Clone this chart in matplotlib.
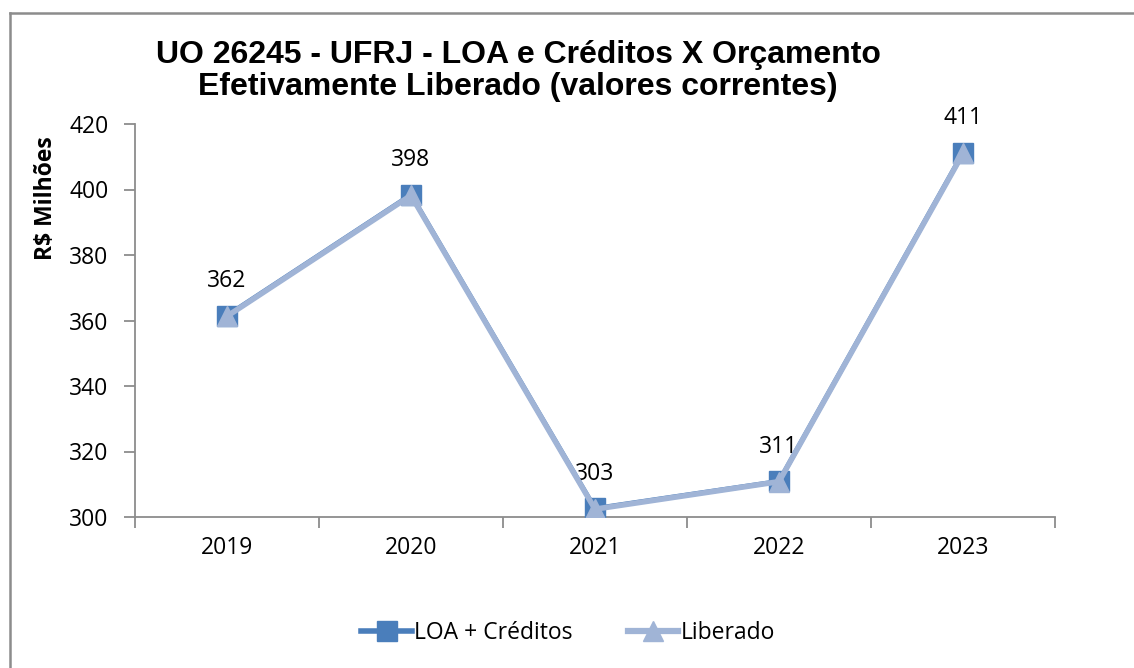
import matplotlib.pyplot as plt
from matplotlib.lines import Line2D

years = ['2019', '2020', '2021', '2022', '2023']
loa_creditos = [361.5, 398.4, 302.6, 310.9, 411.2]
liberado = [361.3, 398.2, 302.4, 310.8, 411.0]
labels = ['362', '398', '303', '311', '411']

c_loa = '#4a7ebb'
c_lib = '#a0b4d6'
gray = '#8c8c8c'
tick_font = 'Open Sans'
fs = 16.5

fig = plt.figure(figsize=(11.34, 6.68), dpi=100)
ax = fig.add_axes([135 / 1134, 1 - 517 / 668, 920 / 1134, 393 / 668])

x = list(range(len(years)))
ax.plot(x, loa_creditos, color=c_loa, lw=3.5, marker='s', ms=14, mec=c_loa, zorder=3)
ax.plot(x, liberado, color=c_lib, lw=4, marker='^', ms=14, mec=c_lib, zorder=4)

for xi, v, t in zip(x, loa_creditos, labels):
    ax.annotate(t, (xi, v), xytext=(0, 25), textcoords='offset points', ha='center', va='center',
                fontsize=fs, family=tick_font)

ax.set_xlim(-0.5, len(years) - 0.5)
ax.set_ylim(300, 420)
ax.set_yticks(range(300, 421, 20))
ax.set_xticks(x)
ax.set_xticklabels(years)
ax.set_xticks([i - 0.5 for i in range(len(years) + 1)], minor=True)
ax.tick_params(axis='x', which='major', length=0, pad=14, labelsize=fs)
ax.tick_params(axis='x', which='minor', length=8, color=gray, width=1.3)
ax.tick_params(axis='y', length=8, color=gray, width=1.3, pad=11, labelsize=fs)
for lab in ax.get_xticklabels() + ax.get_yticklabels():
    lab.set_family(tick_font)

for s in ['top', 'right']:
    ax.spines[s].set_visible(False)
for s in ['left', 'bottom']:
    ax.spines[s].set_color(gray)
    ax.spines[s].set_linewidth(1.3)

fig.text(46 / 1134, 1 - 198 / 668, 'R$ Milhões', rotation=90, ha='center', va='center',
         fontsize=fs, fontweight='bold', family=tick_font)

fig.text(518 / 1134, 1 - 71 / 668,
         'UO 26245 - UFRJ - LOA e Créditos X Orçamento\nEfetivamente Liberado (valores correntes)',
         ha='center', va='center', fontsize=23, fontweight='bold', family='Liberation Sans',
         linespacing=1.12)

# chart frame (only top and left visible in reference)
fig.add_artist(Line2D([10 / 1134, 10 / 1134], [0, 1 - 13 / 668], transform=fig.transFigure,
                      color=gray, lw=1.8))
fig.add_artist(Line2D([10 / 1134, 1], [1 - 13 / 668, 1 - 13 / 668], transform=fig.transFigure,
                      color=gray, lw=1.8))

handles = [Line2D([], [], color=c_loa, lw=4, marker='s', ms=15),
           Line2D([], [], color=c_lib, lw=4.5, marker='^', ms=15)]
fig.legend(handles, ['LOA + Créditos', 'Liberado'], loc='center', bbox_to_anchor=(568 / 1134, 1 - 633 / 668),
           ncol=2, frameon=False, prop={'family': tick_font, 'size': fs}, handlelength=2.2,
           handletextpad=0.1, columnspacing=2.4)

fig.savefig('out.png', dpi=100)
